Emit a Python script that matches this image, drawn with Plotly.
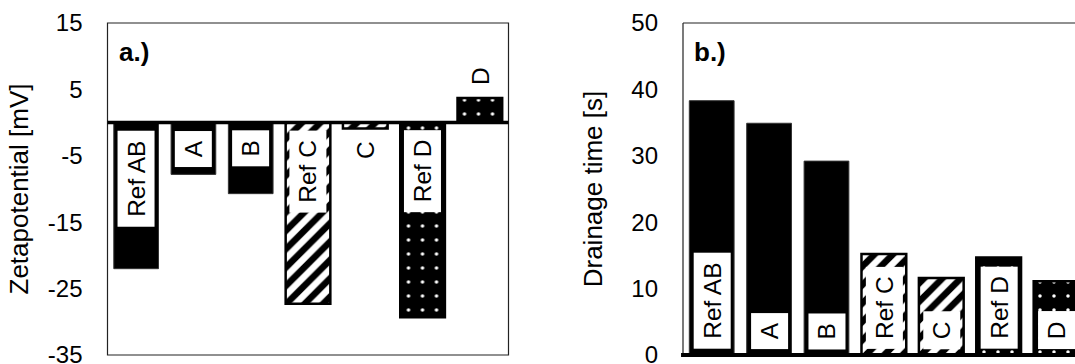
import plotly.graph_objects as go

# ---------------- data ----------------
categories = ["Ref AB", "A", "B", "Ref C", "C", "Ref D", "D"]
zeta_mv = [-22.0, -7.8, -10.7, -27.3, -0.9, -29.3, 3.7]
drainage_s = [38.3, 34.9, 29.2, 15.2, 11.6, 14.7, 11.1]
zeta_ticks = [-35, -25, -15, -5, 5, 15]
drain_ticks = [0, 10, 20, 30, 40, 50]
panel_labels = ["a.)", "b.)"]
axis_titles = ["Zetapotential [mV]", "Drainage time [s]"]

# ---------------- styles ----------------
FONT = "Arial, 'Liberation Sans', sans-serif"
fill_group = ["solid", "solid", "solid", "stripe", "stripe", "dots", "dots"]
STYLES = {
    "solid": dict(color="black", line=dict(color="#333", width=1)),
    "stripe": dict(color="white", line=dict(color="black", width=2.5),
                   pattern=dict(shape="/", fgcolor="black", fgopacity=1, size=13,
                                solidity=0.5, fillmode="overlay")),
    "dots": dict(color="black", line=dict(color="black", width=2.5),
                 pattern=dict(shape=".", fgcolor="white", fgopacity=1, size=14,
                              solidity=0.05, fillmode="overlay")),
}

fig = go.Figure()
for g in ["solid", "stripe", "dots"]:
    idx = [i for i, f in enumerate(fill_group) if f == g]
    xs = [categories[i] for i in idx]
    fig.add_trace(go.Bar(x=xs, y=[zeta_mv[i] for i in idx], marker=STYLES[g],
                         xaxis="x", yaxis="y", showlegend=False, hoverinfo="skip"))
    fig.add_trace(go.Bar(x=xs, y=[drainage_s[i] for i in idx], marker=STYLES[g],
                         xaxis="x2", yaxis="y2", showlegend=False, hoverinfo="skip"))

W, H = 1075, 364
y_dom = [1 - 355 / H, 1 - 23 / H]
left_dom = [107.5 / W, 508.5 / W]
right_dom = [683 / W, 1.0]

tickfont = dict(family=FONT, size=24, color="black")
titlefont = dict(family=FONT, size=26, color="black")

common_x = dict(type="category", categoryorder="array", categoryarray=categories,
                showticklabels=False, showgrid=False, zeroline=False, showline=False,
                ticks="", automargin=False)
common_y = dict(showgrid=False, zeroline=False, showline=False, ticks="",
                tickfont=tickfont, ticklabelstandoff=24, ticklabeloverflow="allow",
                automargin=False)

fig.update_layout(
    width=W, height=H,
    margin=dict(l=0, r=0, t=0, b=0, autoexpand=False),
    paper_bgcolor="white", plot_bgcolor="white",
    barmode="overlay", bargap=0.22,
    font=dict(family=FONT, color="black"),
    xaxis=dict(domain=left_dom, anchor="y", range=[-0.5, 6.5], **common_x),
    yaxis=dict(domain=y_dom, anchor="x", range=[-35, 15], tickvals=zeta_ticks,
               ticktext=[str(v) for v in zeta_ticks],
               title=dict(text=axis_titles[0], font=titlefont, standoff=11), **common_y),
    xaxis2=dict(domain=right_dom, anchor="y2", range=[-0.5, 6.33], **common_x),
    yaxis2=dict(domain=y_dom, anchor="x2", range=[0, 50], tickvals=drain_ticks,
                ticktext=[str(v) for v in drain_ticks],
                title=dict(text=axis_titles[1], font=titlefont, standoff=21), **common_y),
)

shapes = []
shapes.append(dict(type="rect", xref="x domain", yref="y domain", x0=0, x1=1, y0=0, y1=1,
                   line=dict(color="#222", width=1.2), layer="above"))
shapes.append(dict(type="line", xref="x domain", yref="y", x0=0, x1=1, y0=0, y1=0,
                   line=dict(color="black", width=3.5), layer="above"))
shapes.append(dict(type="line", xref="x2 domain", yref="y2 domain", x0=0, x1=0, y0=0, y1=1,
                   line=dict(color="#222", width=1.2), layer="above"))
shapes.append(dict(type="line", xref="x2 domain", yref="y2 domain", x0=0, x1=1, y0=1, y1=1,
                   line=dict(color="#222", width=1.2), layer="above"))
shapes.append(dict(type="line", xref="x2 domain", yref="y2 domain", x0=-0.005, x1=1, y0=0, y1=0,
                   line=dict(color="black", width=4), layer="above"))
fig.update_layout(shapes=shapes)

labfont = dict(family=FONT, size=24.5, color="black")
PAD = "\u2009"
ann = []
for cat, v in zip(categories, zeta_mv):
    if v < 0:
        ann.append(dict(x=cat, y=0, xref="x", yref="y", yanchor="top", yshift=-8))
    else:
        ann.append(dict(x=cat, y=v, xref="x", yref="y", yanchor="bottom", yshift=3))
for cat, v in zip(categories, drainage_s):
    ann.append(dict(x=cat, y=0, xref="x2", yref="y2", yanchor="bottom", yshift=6))
for a, cat in zip(ann, categories + categories):
    a.update(text=PAD + cat + PAD, textangle=-90, showarrow=False, bgcolor="white",
             borderpad=5, borderwidth=0, font=labfont, xanchor="center")

for i, lab in enumerate(panel_labels):
    ax = "x" if i == 0 else "x2"
    ay = "y" if i == 0 else "y2"
    ann.append(dict(text="<b>" + lab + "</b>", xref=ax + " domain", yref=ay + " domain",
                    x=0, y=1, xanchor="left", yanchor="top", xshift=9, yshift=-12,
                    showarrow=False, font=dict(family=FONT, size=26, color="black")))
fig.update_layout(annotations=ann)

fig.write_html("out.html", config={"displayModeBar": False},
               post_script="document.body.style.margin='0px';")
